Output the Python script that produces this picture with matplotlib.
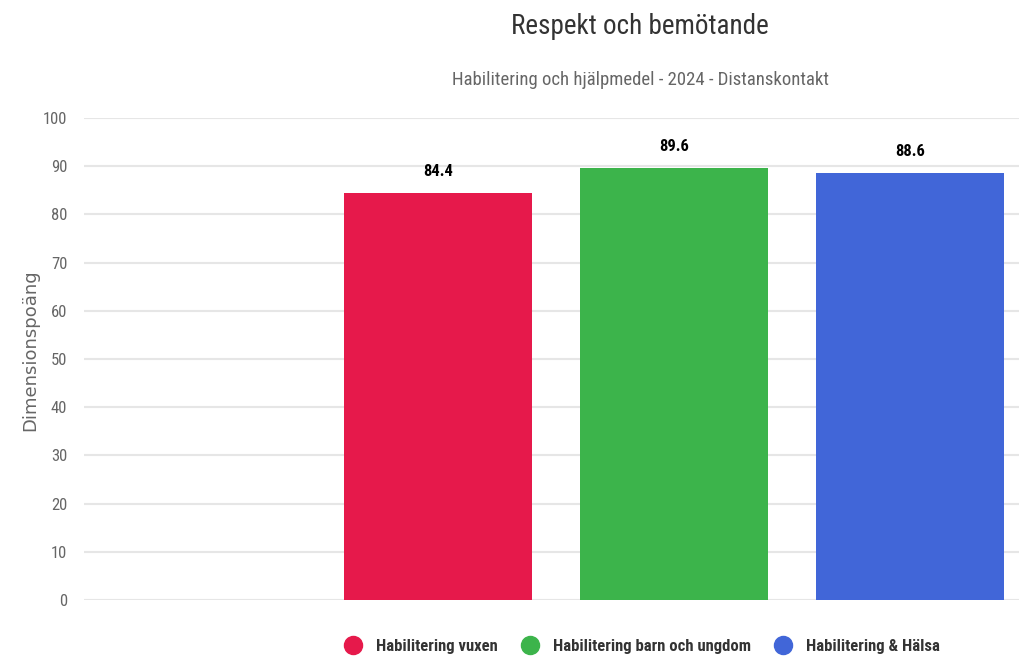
import matplotlib
matplotlib.use("Agg")
import matplotlib.pyplot as plt
from matplotlib.lines import Line2D

FONT = ['Roboto Condensed', 'DejaVu Sans']
plt.rcParams['font.family'] = FONT

title = "Respekt och bemötande"
subtitle = "Habilitering och hjälpmedel - 2024 - Distanskontakt"
ylabel = "Dimensionspoäng"
series = ["Habilitering vuxen", "Habilitering barn och ungdom", "Habilitering & Hälsa"]
values = [84.4, 89.6, 88.6]
colors = ["#e6194b", "#3cb44b", "#4166d8"]
slots = [1, 2, 3]          # category slot 0 is empty in the original
yticks = list(range(0, 101, 10))

W, H = 1019, 657
fig = plt.figure(figsize=(W / 100, H / 100), dpi=100)
left, right, top, bottom = 84, 1028, 118, 600
ax = fig.add_axes([left / W, 1 - bottom / H, (right - left) / W, (bottom - top) / H])

for x, v, c in zip(slots, values, colors):
    ax.bar(x, v, width=0.8, color=c, zorder=3)
    ax.annotate(f"{v}", (x, v), xytext=(0, 10), textcoords="offset points",
                ha="center", va="bottom", fontsize=12, fontweight="bold", color="black")

ax.set_xlim(-0.5, 3.5)
ax.set_ylim(0, 100)
ax.set_yticks(yticks)
ax.set_xticks([])
ax.grid(axis="y", color="#e6e6e6", linewidth=1.5, zorder=0)
for s in ax.spines.values():
    s.set_visible(False)
ax.tick_params(axis="y", length=0, pad=12, labelsize=12, labelcolor="#666666")

fig.text(30 / W, 1 - 350 / H, ylabel, rotation=90, ha="center", va="center",
         fontsize=13, color="#666666", family="DejaVu Sans")

fig.text(640 / W, 1 - 27 / H, title, ha="center", va="center", fontsize=19.5, color="#333333")
fig.text(640 / W, 1 - 80 / H, subtitle, ha="center", va="center", fontsize=13.5, color="#666666")

handles = [Line2D([], [], marker="o", linestyle="", markersize=13, color=c) for c in colors]
leg = fig.legend(handles, series, loc="center", bbox_to_anchor=(638 / W, 1 - 646 / H),
                 ncol=3, frameon=False, handletextpad=0.4, columnspacing=0.9,
                 prop={"size": 12, "weight": "bold"})
for t in leg.get_texts():
    t.set_color("#333333")

fig.savefig("out.png", dpi=100)
